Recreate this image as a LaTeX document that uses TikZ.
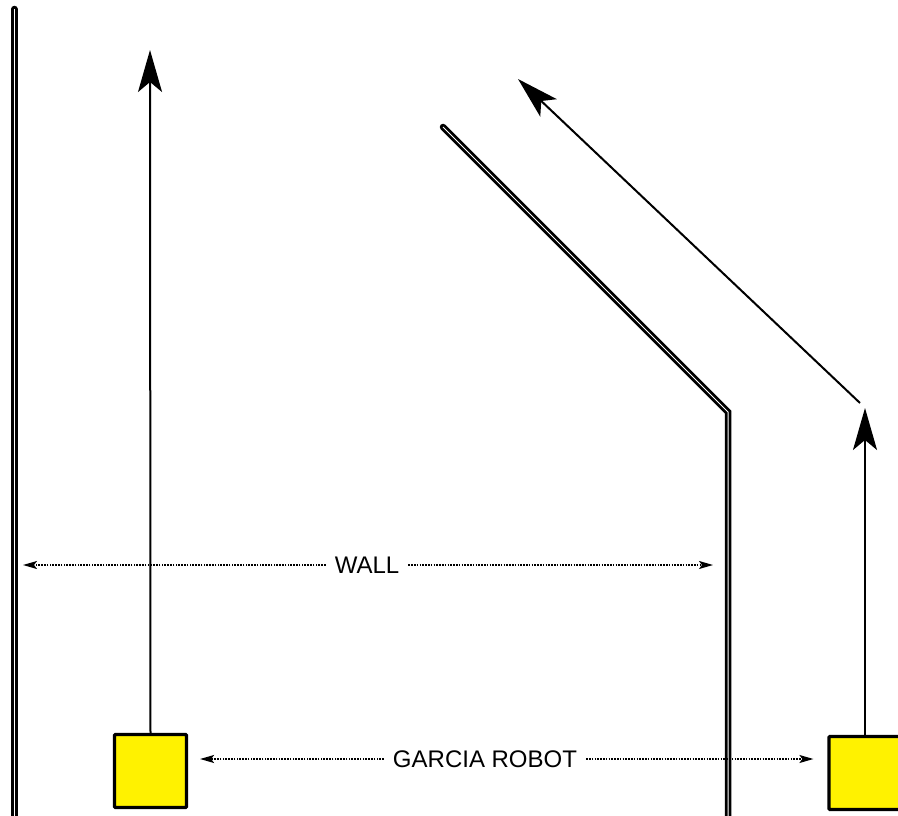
\documentclass[tikz,border=0pt]{standalone}
\usepackage{fontspec}
\setmainfont{Liberation Sans}
\usetikzlibrary{arrows.meta,positioning}

\tikzset{
  wall/.style={draw=white, line width=1pt, line cap=butt, line join=miter,
               preaction={draw=black, line width=6.5pt, line cap=round, line join=miter}},
  route/.style={line width=2pt, -{Stealth[length=42pt,width=24pt,inset=10pt]}},
  hint/.style={line width=1.5pt, dash pattern=on 1.5pt off 1.3pt,
               -{Stealth[length=14pt,width=8pt,inset=3pt]}},
  robot/.style={draw, fill=yellow, line width=3.2pt, rounded corners=1pt,
                minimum width=72pt, minimum height=73pt, inner sep=0pt},
  lbl/.style={inner xsep=9pt, inner ysep=2pt, font=\fontsize{24}{28}\selectfont}
}

\begin{document}
\begin{tikzpicture}[x=1pt, y=-1pt]
%      \draw[help lines] (0,0) grid[step=50] (898,816);
      \useasboundingbox (0,0) rectangle (898,816);

      % the walls
      \draw[wall] (14.3,9) -- (14.3,830);
      \draw[wall] (443,127) -- (728,412) -- (728,830);

      % the two robots
      \node[robot] (robotL) at (150.5,771) {};
      \node[robot] (robotR) at (865,773) {};

      \coordinate (goalL) at (150,50);
      \coordinate (turnR) at (865,408);
      \coordinate (bendR) at (860,403);
      \coordinate (goalR) at (518,79);

      \draw[route] (robotL.north) -- (goalL);
      \draw[route] (robotR.north) -- (turnR);
      \draw[route] (bendR) -- (goalR);

      % labels
      \node[lbl] (wall_lbl) at (367,565) {WALL};
      \node[lbl] (robot_lbl) at (485,759) {GARCIA ROBOT};

      \coordinate (wallL_in) at (23,565);
      \coordinate (wallM_in) at (713,565);

      \draw[hint] (wall_lbl.west) -- (wallL_in);
      \draw[hint] (wall_lbl.east) -- (wallM_in);
      \draw[hint, shorten >=12pt] (robot_lbl.west) -- (robotL.east |- robot_lbl.west);
      \draw[hint, shorten >=14pt] (robot_lbl.east) -- (robotR.west |- robot_lbl.east);
\end{tikzpicture}
\end{document}
